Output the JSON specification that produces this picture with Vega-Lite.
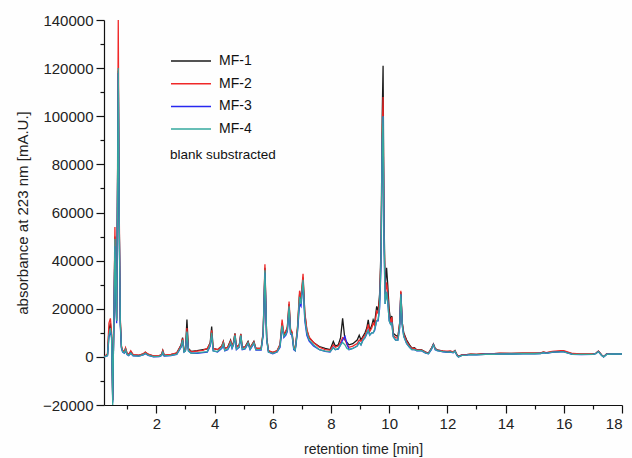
{
 "$schema": "https://vega.github.io/schema/vega-lite/v6.json",
 "width": 518, "height": 385,
 "autosize": {"type": "none"},
 "padding": {"left": 104, "top": 20, "right": 10, "bottom": 53},
 "background": "#fefefe",
 "config": {"view": {"stroke": null}, "font": "Liberation Sans",
  "axis": {"domainColor": "#111", "tickColor": "#111", "labelColor": "#222", "titleColor": "#222", "grid": false, "labelFont": "Liberation Sans", "titleFont": "Liberation Sans", "titleFontWeight": "normal", "domainWidth": 1.2, "tickWidth": 1.2}},
 "datasets": {
  "mf1": [{"t":0.2,"v":0},{"t":0.32,"v":1000},{"t":0.37,"v":11000},{"t":0.42,"v":14000},{"t":0.46,"v":9000},{"t":0.48,"v":-3000},{"t":0.5,"v":-18000},{"t":0.52,"v":0},{"t":0.545,"v":20000},{"t":0.575,"v":50000},{"t":0.61,"v":25000},{"t":0.635,"v":15000},{"t":0.665,"v":70000},{"t":0.69,"v":119000},{"t":0.72,"v":60000},{"t":0.76,"v":15000},{"t":0.8,"v":4000},{"t":0.84,"v":2500},{"t":0.9,"v":2000},{"t":0.94,"v":3500},{"t":0.99,"v":1500},{"t":1.05,"v":1000},{"t":1.12,"v":2200},{"t":1.2,"v":800},{"t":1.4,"v":600},{"t":1.55,"v":1200},{"t":1.62,"v":1900},{"t":1.72,"v":1000},{"t":1.9,"v":300},{"t":2.1,"v":400},{"t":2.18,"v":1000},{"t":2.22,"v":2600},{"t":2.27,"v":600},{"t":2.5,"v":900},{"t":2.7,"v":1600},{"t":2.85,"v":5000},{"t":2.9,"v":8000},{"t":2.95,"v":2500},{"t":3.0,"v":3000},{"t":3.05,"v":15500},{"t":3.1,"v":3500},{"t":3.2,"v":2300},{"t":3.4,"v":2600},{"t":3.6,"v":3000},{"t":3.75,"v":3300},{"t":3.85,"v":6000},{"t":3.9,"v":12600},{"t":3.95,"v":3500},{"t":4.1,"v":3000},{"t":4.25,"v":4500},{"t":4.3,"v":6400},{"t":4.35,"v":3500},{"t":4.45,"v":4000},{"t":4.5,"v":5500},{"t":4.55,"v":7000},{"t":4.6,"v":4500},{"t":4.65,"v":6000},{"t":4.7,"v":9800},{"t":4.75,"v":4000},{"t":4.85,"v":5000},{"t":4.9,"v":9600},{"t":4.95,"v":4000},{"t":5.05,"v":4200},{"t":5.15,"v":6400},{"t":5.22,"v":3800},{"t":5.35,"v":6400},{"t":5.42,"v":3500},{"t":5.6,"v":3500},{"t":5.67,"v":10000},{"t":5.73,"v":37000},{"t":5.79,"v":8000},{"t":5.85,"v":2500},{"t":6.0,"v":1800},{"t":6.15,"v":2500},{"t":6.25,"v":5000},{"t":6.32,"v":14000},{"t":6.38,"v":9000},{"t":6.45,"v":10500},{"t":6.5,"v":12000},{"t":6.56,"v":22000},{"t":6.61,"v":11000},{"t":6.66,"v":10000},{"t":6.72,"v":4000},{"t":6.77,"v":3000},{"t":6.85,"v":12000},{"t":6.92,"v":26000},{"t":6.97,"v":24000},{"t":7.04,"v":33000},{"t":7.1,"v":18000},{"t":7.17,"v":11000},{"t":7.25,"v":8000},{"t":7.4,"v":6000},{"t":7.6,"v":4300},{"t":7.8,"v":3500},{"t":7.97,"v":3000},{"t":8.08,"v":6400},{"t":8.15,"v":4500},{"t":8.25,"v":5000},{"t":8.33,"v":8000},{"t":8.4,"v":16000},{"t":8.48,"v":7000},{"t":8.55,"v":6000},{"t":8.62,"v":5000},{"t":8.75,"v":5500},{"t":8.9,"v":7000},{"t":8.97,"v":9000},{"t":9.03,"v":7000},{"t":9.1,"v":8500},{"t":9.17,"v":10000},{"t":9.23,"v":12000},{"t":9.28,"v":15400},{"t":9.33,"v":11000},{"t":9.4,"v":13000},{"t":9.45,"v":15400},{"t":9.5,"v":14000},{"t":9.57,"v":21000},{"t":9.62,"v":19000},{"t":9.67,"v":26000},{"t":9.72,"v":45000},{"t":9.76,"v":100000},{"t":9.79,"v":121000},{"t":9.82,"v":60000},{"t":9.86,"v":29000},{"t":9.91,"v":37000},{"t":9.95,"v":30000},{"t":10.0,"v":19500},{"t":10.05,"v":15000},{"t":10.09,"v":17000},{"t":10.14,"v":9800},{"t":10.22,"v":9000},{"t":10.3,"v":8400},{"t":10.36,"v":14000},{"t":10.4,"v":27000},{"t":10.45,"v":14000},{"t":10.5,"v":10000},{"t":10.6,"v":7000},{"t":10.7,"v":5000},{"t":10.78,"v":3600},{"t":10.87,"v":3800},{"t":10.95,"v":2900},{"t":11.1,"v":3000},{"t":11.25,"v":2000},{"t":11.35,"v":1600},{"t":11.45,"v":3500},{"t":11.52,"v":5400},{"t":11.58,"v":3500},{"t":11.65,"v":2900},{"t":11.85,"v":2400},{"t":12.0,"v":2100},{"t":12.1,"v":2300},{"t":12.2,"v":2000},{"t":12.26,"v":2600},{"t":12.33,"v":900},{"t":12.38,"v":200},{"t":12.5,"v":800},{"t":12.66,"v":900},{"t":12.8,"v":1100},{"t":13.0,"v":1000},{"t":13.3,"v":1300},{"t":13.6,"v":1300},{"t":13.8,"v":1400},{"t":14.2,"v":1400},{"t":14.6,"v":1500},{"t":15.0,"v":1500},{"t":15.2,"v":1600},{"t":15.3,"v":2000},{"t":15.4,"v":1700},{"t":15.6,"v":2100},{"t":15.9,"v":2300},{"t":16.0,"v":2300},{"t":16.3,"v":1200},{"t":16.6,"v":1100},{"t":17.0,"v":1200},{"t":17.1,"v":1500},{"t":17.19,"v":2400},{"t":17.3,"v":800},{"t":17.37,"v":100},{"t":17.48,"v":1300},{"t":17.7,"v":1300},{"t":18.0,"v":1300}],
  "mf2": [{"t":0.2,"v":0},{"t":0.32,"v":1200},{"t":0.37,"v":14000},{"t":0.42,"v":16000},{"t":0.46,"v":10000},{"t":0.48,"v":-3000},{"t":0.5,"v":-18000},{"t":0.52,"v":0},{"t":0.545,"v":22000},{"t":0.575,"v":54000},{"t":0.61,"v":27000},{"t":0.635,"v":16000},{"t":0.665,"v":75000},{"t":0.69,"v":140000},{"t":0.72,"v":65000},{"t":0.76,"v":16000},{"t":0.8,"v":4500},{"t":0.84,"v":2800},{"t":0.9,"v":2200},{"t":0.94,"v":3800},{"t":0.99,"v":1600},{"t":1.05,"v":1100},{"t":1.12,"v":2500},{"t":1.2,"v":900},{"t":1.4,"v":700},{"t":1.55,"v":1300},{"t":1.62,"v":2000},{"t":1.72,"v":1100},{"t":1.9,"v":400},{"t":2.1,"v":500},{"t":2.18,"v":1100},{"t":2.22,"v":2700},{"t":2.27,"v":700},{"t":2.5,"v":1000},{"t":2.7,"v":1700},{"t":2.85,"v":4800},{"t":2.9,"v":7600},{"t":2.95,"v":2600},{"t":3.0,"v":3000},{"t":3.05,"v":12000},{"t":3.1,"v":3200},{"t":3.2,"v":2100},{"t":3.4,"v":2400},{"t":3.6,"v":2700},{"t":3.75,"v":3600},{"t":3.85,"v":5500},{"t":3.9,"v":11000},{"t":3.95,"v":3500},{"t":4.1,"v":3000},{"t":4.25,"v":4500},{"t":4.3,"v":6200},{"t":4.35,"v":3500},{"t":4.45,"v":4000},{"t":4.5,"v":5200},{"t":4.55,"v":6600},{"t":4.6,"v":4500},{"t":4.65,"v":6000},{"t":4.7,"v":9600},{"t":4.75,"v":4000},{"t":4.85,"v":5000},{"t":4.9,"v":9500},{"t":4.95,"v":4000},{"t":5.05,"v":4200},{"t":5.15,"v":6100},{"t":5.22,"v":3800},{"t":5.35,"v":6200},{"t":5.42,"v":3500},{"t":5.6,"v":3500},{"t":5.67,"v":10500},{"t":5.73,"v":38500},{"t":5.79,"v":8200},{"t":5.85,"v":2600},{"t":6.0,"v":1900},{"t":6.15,"v":2600},{"t":6.25,"v":5200},{"t":6.32,"v":15500},{"t":6.38,"v":9500},{"t":6.45,"v":10800},{"t":6.5,"v":12500},{"t":6.56,"v":23000},{"t":6.61,"v":11500},{"t":6.66,"v":10500},{"t":6.72,"v":4200},{"t":6.77,"v":3200},{"t":6.85,"v":12500},{"t":6.92,"v":27500},{"t":6.97,"v":24500},{"t":7.04,"v":34500},{"t":7.1,"v":18500},{"t":7.17,"v":11500},{"t":7.25,"v":8200},{"t":7.4,"v":6000},{"t":7.6,"v":4000},{"t":7.8,"v":3000},{"t":7.97,"v":2800},{"t":8.08,"v":5000},{"t":8.15,"v":4000},{"t":8.25,"v":4500},{"t":8.33,"v":6000},{"t":8.4,"v":8000},{"t":8.48,"v":7500},{"t":8.55,"v":5000},{"t":8.62,"v":4000},{"t":8.75,"v":4500},{"t":8.9,"v":5500},{"t":8.97,"v":7000},{"t":9.03,"v":6500},{"t":9.1,"v":8000},{"t":9.17,"v":9000},{"t":9.23,"v":11000},{"t":9.28,"v":13500},{"t":9.33,"v":10500},{"t":9.4,"v":12000},{"t":9.45,"v":14000},{"t":9.5,"v":13000},{"t":9.57,"v":19000},{"t":9.62,"v":18000},{"t":9.67,"v":24000},{"t":9.72,"v":42000},{"t":9.76,"v":92000},{"t":9.79,"v":108000},{"t":9.82,"v":55000},{"t":9.86,"v":26000},{"t":9.91,"v":31000},{"t":9.95,"v":26000},{"t":10.0,"v":17000},{"t":10.05,"v":14000},{"t":10.09,"v":16500},{"t":10.14,"v":9000},{"t":10.22,"v":8000},{"t":10.3,"v":7800},{"t":10.36,"v":14000},{"t":10.4,"v":27500},{"t":10.45,"v":14000},{"t":10.5,"v":9500},{"t":10.6,"v":6500},{"t":10.7,"v":4500},{"t":10.78,"v":3500},{"t":10.87,"v":3500},{"t":10.95,"v":2800},{"t":11.1,"v":2900},{"t":11.25,"v":2000},{"t":11.35,"v":1500},{"t":11.45,"v":3500},{"t":11.52,"v":5200},{"t":11.58,"v":3500},{"t":11.65,"v":2800},{"t":11.85,"v":2500},{"t":12.0,"v":2400},{"t":12.1,"v":2500},{"t":12.2,"v":2100},{"t":12.26,"v":2600},{"t":12.33,"v":900},{"t":12.38,"v":200},{"t":12.5,"v":800},{"t":12.66,"v":900},{"t":12.8,"v":1100},{"t":13.0,"v":1000},{"t":13.3,"v":1300},{"t":13.6,"v":1300},{"t":13.8,"v":1500},{"t":14.2,"v":1400},{"t":14.6,"v":1600},{"t":15.0,"v":1600},{"t":15.2,"v":1700},{"t":15.3,"v":2100},{"t":15.4,"v":1800},{"t":15.6,"v":2300},{"t":15.9,"v":2600},{"t":16.0,"v":2600},{"t":16.3,"v":1400},{"t":16.6,"v":1200},{"t":17.0,"v":1200},{"t":17.1,"v":1500},{"t":17.19,"v":2400},{"t":17.3,"v":800},{"t":17.37,"v":100},{"t":17.48,"v":1300},{"t":17.7,"v":1300},{"t":18.0,"v":1300}],
  "mf3": [{"t":0.2,"v":0},{"t":0.32,"v":500},{"t":0.37,"v":8000},{"t":0.42,"v":11000},{"t":0.46,"v":8000},{"t":0.48,"v":-5000},{"t":0.5,"v":-19000},{"t":0.52,"v":-1000},{"t":0.545,"v":18000},{"t":0.575,"v":46000},{"t":0.61,"v":23000},{"t":0.635,"v":14000},{"t":0.665,"v":68000},{"t":0.69,"v":118000},{"t":0.72,"v":58000},{"t":0.76,"v":13000},{"t":0.8,"v":3500},{"t":0.84,"v":2000},{"t":0.9,"v":1500},{"t":0.94,"v":2500},{"t":0.99,"v":1000},{"t":1.05,"v":500},{"t":1.12,"v":1500},{"t":1.2,"v":400},{"t":1.4,"v":300},{"t":1.55,"v":800},{"t":1.62,"v":1300},{"t":1.72,"v":600},{"t":1.9,"v":0},{"t":2.1,"v":100},{"t":2.18,"v":600},{"t":2.22,"v":1800},{"t":2.27,"v":300},{"t":2.5,"v":500},{"t":2.7,"v":1000},{"t":2.85,"v":4000},{"t":2.9,"v":6500},{"t":2.95,"v":2000},{"t":3.0,"v":2500},{"t":3.05,"v":10000},{"t":3.1,"v":2500},{"t":3.2,"v":1500},{"t":3.4,"v":1500},{"t":3.6,"v":1800},{"t":3.75,"v":2000},{"t":3.85,"v":4500},{"t":3.9,"v":9000},{"t":3.95,"v":2500},{"t":4.1,"v":2000},{"t":4.25,"v":3500},{"t":4.3,"v":5000},{"t":4.35,"v":2500},{"t":4.45,"v":3000},{"t":4.5,"v":4000},{"t":4.55,"v":5500},{"t":4.6,"v":3500},{"t":4.65,"v":5000},{"t":4.7,"v":8500},{"t":4.75,"v":3000},{"t":4.85,"v":4000},{"t":4.9,"v":8500},{"t":4.95,"v":3000},{"t":5.05,"v":3300},{"t":5.15,"v":5500},{"t":5.22,"v":3000},{"t":5.35,"v":5500},{"t":5.42,"v":2800},{"t":5.6,"v":2800},{"t":5.67,"v":9000},{"t":5.73,"v":35000},{"t":5.79,"v":7000},{"t":5.85,"v":2000},{"t":6.0,"v":1300},{"t":6.15,"v":2000},{"t":6.25,"v":4000},{"t":6.32,"v":12500},{"t":6.38,"v":8000},{"t":6.45,"v":9000},{"t":6.5,"v":10500},{"t":6.56,"v":20000},{"t":6.61,"v":9500},{"t":6.66,"v":9000},{"t":6.72,"v":3000},{"t":6.77,"v":2500},{"t":6.85,"v":10500},{"t":6.92,"v":22000},{"t":6.97,"v":21000},{"t":7.04,"v":31000},{"t":7.1,"v":15000},{"t":7.17,"v":9000},{"t":7.25,"v":6500},{"t":7.4,"v":4500},{"t":7.6,"v":3000},{"t":7.8,"v":2300},{"t":7.97,"v":2000},{"t":8.08,"v":4000},{"t":8.15,"v":3000},{"t":8.25,"v":3200},{"t":8.33,"v":5000},{"t":8.4,"v":7000},{"t":8.48,"v":8500},{"t":8.55,"v":5500},{"t":8.62,"v":3000},{"t":8.75,"v":3500},{"t":8.9,"v":4500},{"t":8.97,"v":6000},{"t":9.03,"v":5000},{"t":9.1,"v":7000},{"t":9.17,"v":8000},{"t":9.23,"v":9500},{"t":9.28,"v":11000},{"t":9.33,"v":9000},{"t":9.4,"v":10000},{"t":9.45,"v":10000},{"t":9.5,"v":11000},{"t":9.57,"v":15000},{"t":9.62,"v":15000},{"t":9.67,"v":20000},{"t":9.72,"v":38000},{"t":9.76,"v":88000},{"t":9.79,"v":100000},{"t":9.82,"v":50000},{"t":9.86,"v":22000},{"t":9.91,"v":27000},{"t":9.95,"v":23000},{"t":10.0,"v":15000},{"t":10.05,"v":13500},{"t":10.09,"v":14000},{"t":10.14,"v":8400},{"t":10.22,"v":7000},{"t":10.3,"v":7000},{"t":10.36,"v":12000},{"t":10.4,"v":26000},{"t":10.45,"v":13000},{"t":10.5,"v":8500},{"t":10.6,"v":5500},{"t":10.7,"v":4000},{"t":10.78,"v":3000},{"t":10.87,"v":3000},{"t":10.95,"v":2500},{"t":11.1,"v":2600},{"t":11.25,"v":1600},{"t":11.35,"v":1300},{"t":11.45,"v":3000},{"t":11.52,"v":5000},{"t":11.58,"v":3000},{"t":11.65,"v":2600},{"t":11.85,"v":2100},{"t":12.0,"v":1900},{"t":12.1,"v":2000},{"t":12.2,"v":1700},{"t":12.26,"v":2300},{"t":12.33,"v":500},{"t":12.38,"v":0},{"t":12.5,"v":600},{"t":12.66,"v":700},{"t":12.8,"v":900},{"t":13.0,"v":800},{"t":13.3,"v":1100},{"t":13.6,"v":1100},{"t":13.8,"v":1200},{"t":14.2,"v":1200},{"t":14.6,"v":1300},{"t":15.0,"v":1300},{"t":15.2,"v":1400},{"t":15.3,"v":1700},{"t":15.4,"v":1500},{"t":15.6,"v":1900},{"t":15.9,"v":2100},{"t":16.0,"v":2100},{"t":16.3,"v":1000},{"t":16.6,"v":900},{"t":17.0,"v":1000},{"t":17.1,"v":1300},{"t":17.19,"v":2200},{"t":17.3,"v":600},{"t":17.37,"v":0},{"t":17.48,"v":1100},{"t":17.7,"v":1200},{"t":18.0,"v":1200}],
  "mf4": [{"t":0.2,"v":0},{"t":0.32,"v":600},{"t":0.37,"v":9000},{"t":0.42,"v":12000},{"t":0.46,"v":8000},{"t":0.48,"v":-5000},{"t":0.5,"v":-20000},{"t":0.52,"v":-1000},{"t":0.545,"v":19000},{"t":0.575,"v":49000},{"t":0.61,"v":24000},{"t":0.635,"v":15000},{"t":0.665,"v":70000},{"t":0.69,"v":120000},{"t":0.72,"v":60000},{"t":0.76,"v":14000},{"t":0.8,"v":3800},{"t":0.84,"v":2200},{"t":0.9,"v":1600},{"t":0.94,"v":3000},{"t":0.99,"v":1100},{"t":1.05,"v":600},{"t":1.12,"v":1600},{"t":1.2,"v":500},{"t":1.4,"v":300},{"t":1.55,"v":900},{"t":1.62,"v":1500},{"t":1.72,"v":700},{"t":1.9,"v":100},{"t":2.1,"v":200},{"t":2.18,"v":700},{"t":2.22,"v":2000},{"t":2.27,"v":400},{"t":2.5,"v":600},{"t":2.7,"v":1100},{"t":2.85,"v":4200},{"t":2.9,"v":7000},{"t":2.95,"v":2000},{"t":3.0,"v":2500},{"t":3.05,"v":10500},{"t":3.1,"v":2500},{"t":3.2,"v":1500},{"t":3.4,"v":1700},{"t":3.6,"v":2000},{"t":3.75,"v":2200},{"t":3.85,"v":5000},{"t":3.9,"v":10000},{"t":3.95,"v":2500},{"t":4.1,"v":2200},{"t":4.25,"v":3800},{"t":4.3,"v":5500},{"t":4.35,"v":2700},{"t":4.45,"v":3200},{"t":4.5,"v":4500},{"t":4.55,"v":6000},{"t":4.6,"v":3700},{"t":4.65,"v":5200},{"t":4.7,"v":9000},{"t":4.75,"v":3200},{"t":4.85,"v":4200},{"t":4.9,"v":9000},{"t":4.95,"v":3200},{"t":5.05,"v":3500},{"t":5.15,"v":5800},{"t":5.22,"v":3200},{"t":5.35,"v":5800},{"t":5.42,"v":3000},{"t":5.6,"v":3000},{"t":5.67,"v":9500},{"t":5.73,"v":36000},{"t":5.79,"v":7500},{"t":5.85,"v":2000},{"t":6.0,"v":1500},{"t":6.15,"v":2100},{"t":6.25,"v":4500},{"t":6.32,"v":13000},{"t":6.38,"v":8500},{"t":6.45,"v":9500},{"t":6.5,"v":11000},{"t":6.56,"v":21000},{"t":6.61,"v":10000},{"t":6.66,"v":9500},{"t":6.72,"v":3500},{"t":6.77,"v":2700},{"t":6.85,"v":11000},{"t":6.92,"v":25000},{"t":6.97,"v":22000},{"t":7.04,"v":32000},{"t":7.1,"v":16000},{"t":7.17,"v":10000},{"t":7.25,"v":7000},{"t":7.4,"v":5000},{"t":7.6,"v":3000},{"t":7.8,"v":2400},{"t":7.97,"v":2200},{"t":8.08,"v":3800},{"t":8.15,"v":3000},{"t":8.25,"v":3500},{"t":8.33,"v":5000},{"t":8.4,"v":6000},{"t":8.48,"v":5000},{"t":8.55,"v":3500},{"t":8.62,"v":3000},{"t":8.75,"v":3500},{"t":8.9,"v":4500},{"t":8.97,"v":6000},{"t":9.03,"v":5000},{"t":9.1,"v":7000},{"t":9.17,"v":8000},{"t":9.23,"v":10000},{"t":9.28,"v":11000},{"t":9.33,"v":9000},{"t":9.4,"v":10000},{"t":9.45,"v":10000},{"t":9.5,"v":11500},{"t":9.57,"v":15000},{"t":9.62,"v":15500},{"t":9.67,"v":21000},{"t":9.72,"v":40000},{"t":9.76,"v":90000},{"t":9.79,"v":100000},{"t":9.82,"v":52000},{"t":9.86,"v":22000},{"t":9.91,"v":27000},{"t":9.95,"v":23000},{"t":10.0,"v":15000},{"t":10.05,"v":13500},{"t":10.09,"v":14000},{"t":10.14,"v":8400},{"t":10.22,"v":7000},{"t":10.3,"v":7000},{"t":10.36,"v":12500},{"t":10.4,"v":26000},{"t":10.45,"v":13000},{"t":10.5,"v":8500},{"t":10.6,"v":5600},{"t":10.7,"v":4000},{"t":10.78,"v":3000},{"t":10.87,"v":3000},{"t":10.95,"v":2600},{"t":11.1,"v":2700},{"t":11.25,"v":1700},{"t":11.35,"v":1300},{"t":11.45,"v":3200},{"t":11.52,"v":5000},{"t":11.58,"v":3100},{"t":11.65,"v":2600},{"t":11.85,"v":2200},{"t":12.0,"v":2000},{"t":12.1,"v":2100},{"t":12.2,"v":1800},{"t":12.26,"v":2400},{"t":12.33,"v":600},{"t":12.38,"v":0},{"t":12.5,"v":600},{"t":12.66,"v":700},{"t":12.8,"v":900},{"t":13.0,"v":800},{"t":13.3,"v":1100},{"t":13.6,"v":1100},{"t":13.8,"v":1200},{"t":14.2,"v":1200},{"t":14.6,"v":1300},{"t":15.0,"v":1300},{"t":15.2,"v":1400},{"t":15.3,"v":1800},{"t":15.4,"v":1500},{"t":15.6,"v":2000},{"t":15.9,"v":2100},{"t":16.0,"v":2100},{"t":16.3,"v":1000},{"t":16.6,"v":1000},{"t":17.0,"v":1000},{"t":17.1,"v":1300},{"t":17.19,"v":2200},{"t":17.3,"v":600},{"t":17.37,"v":0},{"t":17.48,"v":1100},{"t":17.7,"v":1200},{"t":18.0,"v":1200}]
 },
 "layer": [
  {"data": {"name": "mf1"}, "mark": {"type": "line", "strokeWidth": 1.3, "clip": true},
   "encoding": {
    "x": {"field": "t", "type": "quantitative", "scale": {"domain": [0.2, 18], "nice": false, "zero": false},
     "axis": {"orient": "bottom", "values": [2, 4, 6, 8, 10, 12, 14, 16, 18], "tickSize": 8, "labelFontSize": 15, "labelPadding": 3, "title": "retention time [min]", "titleFontSize": 14, "titlePadding": 11}},
    "y": {"field": "v", "type": "quantitative", "scale": {"domain": [-20000, 140000], "nice": false},
     "axis": {"orient": "left", "values": [-20000, 0, 20000, 40000, 60000, 80000, 100000, 120000, 140000], "format": "d", "tickSize": 8, "labelFontSize": 15, "labelPadding": 3, "title": "absorbance at 223 nm [mA.U.]", "titleFontSize": 15, "titlePadding": 12}},
    "color": {"datum": "MF-1", "type": "nominal",
     "scale": {"domain": ["MF-1", "MF-2", "MF-3", "MF-4"], "range": ["#1a1a1a", "#f02828", "#2828f0", "#35a89e"]},
     "legend": {"orient": "none", "legendX": 66, "legendY": 30, "symbolType": "stroke", "symbolSize": 1600, "symbolStrokeWidth": 1.5, "clipHeight": 22, "labelFontSize": 14, "labelOffset": 7, "labelColor": "#111", "rowPadding": 0.7, "title": "blank substracted", "titleOrient": "bottom", "titleFontSize": 13.5, "titleFontWeight": "normal", "titleAnchor": "start", "titlePadding": 8, "titleColor": "#111"}}
   }},
  {"data": {"name": "mf2"}, "mark": {"type": "line", "strokeWidth": 1.3, "clip": true},
   "encoding": {
    "x": {"field": "t", "type": "quantitative", "axis": {"orient": "bottom", "values": [1, 3, 5, 7, 9, 11, 13, 15, 17], "tickSize": 4, "labels": false, "domain": false, "title": null}},
    "y": {"field": "v", "type": "quantitative", "axis": {"orient": "left", "values": [-10000, 10000, 30000, 50000, 70000, 90000, 110000, 130000], "tickSize": 4, "labels": false, "domain": false, "title": null}},
    "color": {"datum": "MF-2", "type": "nominal"}
   }},
  {"data": {"name": "mf3"}, "mark": {"type": "line", "strokeWidth": 1.3, "clip": true},
   "encoding": {
    "x": {"field": "t", "type": "quantitative", "axis": null},
    "y": {"field": "v", "type": "quantitative", "axis": null},
    "color": {"datum": "MF-3", "type": "nominal"}
   }},
  {"data": {"name": "mf4"}, "mark": {"type": "line", "strokeWidth": 1.3, "clip": true},
   "encoding": {
    "x": {"field": "t", "type": "quantitative", "axis": null},
    "y": {"field": "v", "type": "quantitative", "axis": null},
    "color": {"datum": "MF-4", "type": "nominal"}
   }}
 ],
 "resolve": {"axis": {"x": "independent", "y": "independent"}}
}
